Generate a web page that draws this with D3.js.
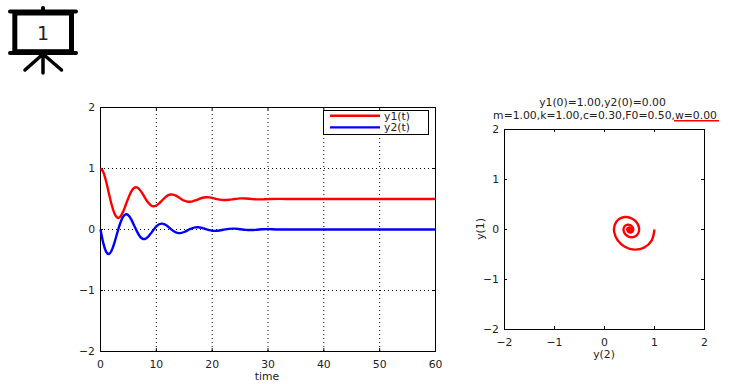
<!DOCTYPE html>
<html>
<head>
<meta charset="utf-8">
<script src="https://cdn.jsdelivr.net/npm/d3@7"></script>
<style>
    html, body { margin: 0; padding: 0; background: #fff; }
    svg { display: block; }
    text { font-family: "DejaVu Sans", sans-serif; font-size: 10.8px; fill: #222; }
    .tick text { font-size: 10.8px; }
    .grid line { stroke: #000; stroke-width: 1; stroke-dasharray: 1 3; }
    .grid path { display: none; }
    .edge path { display: none; }
    .edge line { stroke: #000; }
</style>
</head>
<body>
<div id="chart"></div>
<script>
// values
const time = [0, 0.5, 1, 1.5, 2, 2.5, 3, 3.5, 4, 4.5, 5, 5.5, 6, 6.5, 7, 7.5, 8, 8.5, 9, 9.5, 10,
    10.5, 11, 11.5, 12, 12.5, 13, 13.5, 14, 14.5, 15, 15.5, 16, 16.5, 17, 17.5, 18, 18.5, 19, 19.5, 20,
    20.5, 21, 22, 23, 24, 25, 26, 27, 28, 29, 30, 32, 35, 40, 50, 60];
const y1 = [1, 0.942, 0.791, 0.595, 0.405, 0.263, 0.195, 0.205, 0.281, 0.397, 0.519, 0.621, 0.681, 0.691, 0.656, 0.591, 0.514, 0.445, 0.398, 0.38, 0.393,
    0.427, 0.474, 0.52, 0.555, 0.573, 0.571, 0.554, 0.527, 0.497, 0.472, 0.457, 0.454, 0.462, 0.477, 0.495, 0.512, 0.524, 0.529, 0.526, 0.518,
    0.507, 0.496, 0.483, 0.487, 0.5, 0.51, 0.509, 0.501, 0.494, 0.494, 0.498, 0.502, 0.5, 0.5, 0.5, 0.5];
const y2 = [0, -0.223, -0.363, -0.402, -0.344, -0.216, -0.056, 0.094, 0.202, 0.249, 0.233, 0.166, 0.07, -0.027, -0.105, -0.149, -0.152, -0.12, -0.066, -0.004, 0.051,
    0.086, 0.096, 0.084, 0.054, 0.016, -0.02, -0.047, -0.059, -0.056, -0.041, -0.018, 0.005, 0.024, 0.035, 0.037, 0.03, 0.017, 0.002, -0.011, -0.02,
    -0.023, -0.02, -0.005, 0.011, 0.014, 0.005, -0.006, -0.009, -0.004, 0.003, 0.006, 0, 0, 0, 0, 0];
const timeTicks = [0, 10, 20, 30, 40, 50, 60];
const valueTicks = [-2, -1, 0, 1, 2];
const seriesNames = ["y1(t)", "y2(t)"];
const seriesColors = ["#ff0000", "#0000ff"];
const titleLines = ["y1(0)=1.00,y2(0)=0.00", "m=1.00,k=1.00,c=0.30,F0=0.50,w=0.00"];

const svg = d3.select("#chart").append("svg")
    .attr("width", 744)
    .attr("height", 384);

let smooth = d3.curveCatmullRom.alpha(0);

// slide icon
let icon = svg.append("g")
    .attr("stroke", "#000")
    .attr("stroke-linecap", "round")
    .attr("fill", "none");
icon.append("rect").attr("x", 14.8).attr("y", 13).attr("width", 56.7).attr("height", 38.7).attr("stroke-width", 5);
icon.append("path").attr("stroke-width", 4)
    .attr("d", "M10,11.5H76M10,53H76M43,8V11");
icon.append("path").attr("stroke-width", 3.5)
    .attr("d", "M43,54L25,70M43,54V73M43,54L61.5,70");
svg.append("text")
    .attr("x", 43).attr("y", 40)
    .attr("text-anchor", "middle")
    .style("font-size", "19px")
    .text("1");

// ---- left plot: time series ----
let left = {x0: 100, x1: 435, y0: 351, y1: 107};
let xTime = d3.scaleLinear().domain([0, 60]).range([left.x0, left.x1]);
let yLeft = d3.scaleLinear().domain([-2, 2]).range([left.y0, left.y1]);

drawFrame(left, xTime, yLeft, timeTicks, true);

let lineTime = values => d3.line()
    .x((d, i) => xTime(time[i]) + 0.5)
    .y(d => yLeft(d) + 0.5)
    .curve(smooth)(values);

[y1, y2].forEach((values, i) => {
    svg.append("path")
        .attr("d", lineTime(values))
        .attr("fill", "none")
        .attr("stroke", seriesColors[i])
        .attr("stroke-width", 2.4);
});

svg.append("text")
    .attr("x", 267).attr("y", 380)
    .attr("text-anchor", "middle")
    .text("time");

// legend
svg.append("rect")
    .attr("x", 323.5).attr("y", 110.5)
    .attr("width", 105).attr("height", 24)
    .attr("fill", "#fff")
    .attr("stroke", "#000");
seriesNames.forEach((name, i) => {
    let ly = 115.7 + i * 11.7;
    svg.append("line")
        .attr("x1", 330).attr("x2", 380)
        .attr("y1", ly).attr("y2", ly)
        .attr("stroke", seriesColors[i])
        .attr("stroke-width", 2.4);
    svg.append("text")
        .attr("x", 384).attr("y", ly + 4)
        .text(name);
});

// ---- right plot: phase portrait ----
let right = {x0: 504, x1: 704, y0: 329, y1: 129};
let xPhase = d3.scaleLinear().domain([-2, 2]).range([right.x0, right.x1]);
let yPhase = d3.scaleLinear().domain([-2, 2]).range([right.y0, right.y1]);

drawFrame(right, xPhase, yPhase, valueTicks, false);

svg.append("path")
    .attr("d", d3.line()
        .x(d => xPhase(d) + 0.5)
        .y((d, i) => yPhase(y2[i]) + 0.5)
        .curve(smooth)(y1))
    .attr("fill", "none")
    .attr("stroke", seriesColors[0])
    .attr("stroke-width", 2.4);

svg.append("text")
    .attr("x", 604).attr("y", 358)
    .attr("text-anchor", "middle")
    .text("y(2)");

svg.append("text")
    .attr("transform", "translate(484,229) rotate(-90)")
    .attr("text-anchor", "middle")
    .text("y(1)");

titleLines.forEach((line, i) => {
    svg.append("text")
        .attr("x", i == 0 ? 602.5 : 605).attr("y", 106 + i * 12.5)
        .attr("text-anchor", "middle")
        .text(line);
});

// red underline below the w value
svg.append("line")
    .attr("x1", 674).attr("x2", 719)
    .attr("y1", 120.7).attr("y2", 120.7)
    .attr("stroke", seriesColors[0])
    .attr("stroke-width", 1.6);

function drawFrame(box, x, y, xTicks, withGrid) {
    let w = box.x1 - box.x0;
    let h = box.y0 - box.y1;

    if (withGrid) {
        svg.append("g").attr("class", "grid")
            .attr("transform", "translate(0," + box.y0 + ")")
            .call(d3.axisBottom(x).tickValues(xTicks.slice(1, -1)).tickSize(-h).tickFormat(""));
        svg.append("g").attr("class", "grid")
            .attr("transform", "translate(" + box.x0 + ",0)")
            .call(d3.axisLeft(y).tickValues(valueTicks.slice(1, -1)).tickSize(-w).tickFormat(""));
    }

    // short inward ticks on all four sides
    svg.append("g").attr("class", "edge")
        .attr("transform", "translate(0," + box.y0 + ")")
        .call(d3.axisBottom(x).tickValues(xTicks).tickSize(-3).tickFormat(""));
    svg.append("g").attr("class", "edge")
        .attr("transform", "translate(0," + box.y1 + ")")
        .call(d3.axisTop(x).tickValues(xTicks).tickSize(-3).tickFormat(""));
    svg.append("g").attr("class", "edge")
        .attr("transform", "translate(" + box.x0 + ",0)")
        .call(d3.axisLeft(y).tickValues(valueTicks).tickSize(-3).tickFormat(""));
    svg.append("g").attr("class", "edge")
        .attr("transform", "translate(" + box.x1 + ",0)")
        .call(d3.axisRight(y).tickValues(valueTicks).tickSize(-3).tickFormat(""));

    // tick labels
    svg.append("g")
        .attr("transform", "translate(0," + box.y0 + ")")
        .call(d3.axisBottom(x).tickValues(xTicks).tickSize(0).tickPadding(9).tickFormat(d3.format("d")))
        .call(g => g.select(".domain").remove());
    svg.append("g")
        .attr("transform", "translate(" + box.x0 + ",0)")
        .call(d3.axisLeft(y).tickValues(valueTicks).tickSize(0).tickPadding(5).tickFormat(d3.format("d")))
        .call(g => g.select(".domain").remove());

    svg.append("rect")
        .attr("x", box.x0 + 0.5).attr("y", box.y1 + 0.5)
        .attr("width", w).attr("height", h)
        .attr("fill", "none")
        .attr("stroke", "#000");
}
</script>
</body>
</html>
